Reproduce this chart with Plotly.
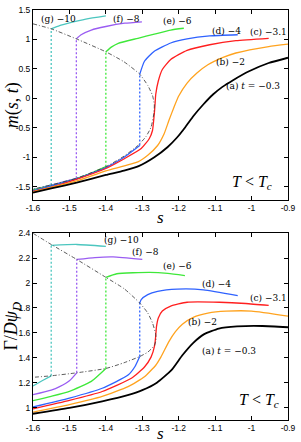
import plotly.graph_objects as go

# ---------------- data: top panel m(s,t) ----------------
s_dd_top = [-1.6, -1.55, -1.481, -1.40, -1.35, -1.307, -1.285, -1.272, -1.267, -1.268, -1.276, -1.29, -1.312, -1.35, -1.40, -1.481, -1.55, -1.6]
m_dd_top = [1.265, 1.18, 1.01, 0.79, 0.62, 0.41, 0.22, 0.05, -0.1, -0.25, -0.49, -0.65, -0.80, -0.98, -1.16, -1.357, -1.47, -1.54]

s_a_top = [-1.6, -1.55, -1.48, -1.40, -1.35, -1.31, -1.267, -1.231, -1.204, -1.182, -1.159, -1.132, -1.106, -1.08, -1.052, -1.007, -0.953, -0.9]
m_a_top = [-1.60, -1.53, -1.43, -1.30, -1.225, -1.15, -1.0, -0.83, -0.66, -0.49, -0.295, -0.10, 0.065, 0.195, 0.305, 0.46, 0.60, 0.69]

s_b_top = [-1.6, -1.55, -1.48, -1.40, -1.312, -1.285, -1.258, -1.24, -1.227, -1.213, -1.2, -1.177, -1.15, -1.12, -1.08, -1.043, -0.953, -0.9]
m_b_top = [-1.59, -1.51, -1.40, -1.23, -1.077, -0.965, -0.80, -0.60, -0.377, -0.15, 0.04, 0.26, 0.43, 0.57, 0.69, 0.77, 0.88, 0.92]

s_c_top = [-1.6, -1.545, -1.481, -1.40, -1.348, -1.303, -1.281, -1.272, -1.267, -1.265, -1.263, -1.256, -1.245, -1.222, -1.177, -1.115, -1.043, -0.953]
m_c_top = [-1.58, -1.497, -1.374, -1.19, -1.02, -0.853, -0.685, -0.545, -0.26, -0.1, 0.07, 0.295, 0.49, 0.66, 0.816, 0.91, 0.98, 1.02]

s_d_top_lo = [-1.6, -1.55, -1.481, -1.40, -1.35, -1.307]
m_d_top_lo = [-1.57, -1.485, -1.368, -1.175, -1.0, -0.80]
s_d_top_hi = [-1.307, -1.294, -1.267, -1.222, -1.177, -1.115, -1.038]
m_d_top_hi = [0.41, 0.63, 0.80, 0.94, 1.01, 1.06, 1.08]

s_e_top_lo = [-1.6, -1.55, -1.481, -1.44, -1.40]
m_e_top_lo = [-1.56, -1.48, -1.362, -1.27, -1.16]
s_e_top_hi = [-1.40, -1.385, -1.366, -1.312, -1.267, -1.222, -1.186]
m_e_top_hi = [0.79, 0.87, 0.935, 1.02, 1.09, 1.16, 1.19]

s_f_top_lo = [-1.6, -1.55, -1.52, -1.481]
m_f_top_lo = [-1.555, -1.475, -1.42, -1.357]
s_f_top_hi = [-1.481, -1.468, -1.44, -1.40, -1.348, -1.301]
m_f_top_hi = [1.01, 1.08, 1.16, 1.22, 1.276, 1.30]

s_g_top_lo = [-1.6, -1.575, -1.55]
m_g_top_lo = [-1.55, -1.51, -1.47]
s_g_top_hi = [-1.55, -1.527, -1.50, -1.455, -1.40]
m_g_top_hi = [1.18, 1.235, 1.28, 1.345, 1.40]

# vertical jumps (s, low m, high m) for g, f, e, d
jump_s_top = [-1.55, -1.481, -1.40, -1.307]
jump_lo_top = [-1.47, -1.357, -1.16, -0.80]
jump_hi_top = [1.18, 1.01, 0.79, 0.41]

# ---------------- data: bottom panel Gamma/(D psi_D) ----------------
s_dd_bot = [-1.6, -1.55, -1.48, -1.40, -1.35, -1.307, -1.285, -1.272, -1.264, -1.262, -1.267, -1.285, -1.307, -1.35, -1.40, -1.48, -1.55, -1.6]
g_dd_bot = [2.40, 2.31, 2.19, 2.046, 1.955, 1.84, 1.76, 1.68, 1.60, 1.55, 1.498, 1.445, 1.41, 1.36, 1.314, 1.279, 1.255, 1.243]

s_a_bot = [-1.6, -1.5, -1.41, -1.34, -1.30, -1.26, -1.22, -1.19, -1.16, -1.13, -1.09, -1.04, -0.97, -0.9]
g_a_bot = [0.95, 0.997, 1.05, 1.10, 1.14, 1.20, 1.30, 1.42, 1.52, 1.59, 1.635, 1.652, 1.655, 1.645]

s_b_bot = [-1.6, -1.5, -1.41, -1.339, -1.294, -1.263, -1.249, -1.227, -1.209, -1.19, -1.16, -1.12, -1.07, -1.0, -0.9]
g_b_bot = [0.963, 1.024, 1.089, 1.168, 1.247, 1.34, 1.405, 1.53, 1.61, 1.67, 1.725, 1.758, 1.774, 1.775, 1.735]

s_c_bot = [-1.6, -1.5, -1.41, -1.33, -1.294, -1.276, -1.266, -1.263, -1.261, -1.256, -1.245, -1.222, -1.177, -1.088, -1.016, -0.953]
g_c_bot = [0.989, 1.057, 1.129, 1.235, 1.326, 1.405, 1.50, 1.58, 1.65, 1.72, 1.775, 1.815, 1.846, 1.846, 1.836, 1.82]

s_d_bot_lo = [-1.6, -1.5, -1.41, -1.339, -1.32, -1.307]
g_d_bot_lo = [1.005, 1.076, 1.155, 1.261, 1.33, 1.41]
s_d_bot_hi = [-1.307, -1.303, -1.285, -1.258, -1.204, -1.132, -1.038]
g_d_bot_hi = [1.84, 1.867, 1.907, 1.933, 1.951, 1.946, 1.90]

s_e_bot_lo = [-1.6, -1.55, -1.5, -1.44, -1.40]
g_e_bot_lo = [1.055, 1.09, 1.13, 1.21, 1.314]
s_e_bot_hi = [-1.40, -1.37, -1.28, -1.23, -1.183]
g_e_bot_hi = [2.046, 2.075, 2.086, 2.078, 2.06]

s_f_bot_lo = [-1.6, -1.55, -1.527, -1.50, -1.48]
g_f_bot_lo = [1.103, 1.14, 1.168, 1.215, 1.279]
s_f_bot_hi = [-1.48, -1.43, -1.38, -1.30]
g_f_bot_hi = [2.19, 2.205, 2.21, 2.19]

s_g_bot_lo = [-1.6, -1.575, -1.55]
g_g_bot_lo = [1.174, 1.215, 1.255]
s_g_bot_hi = [-1.55, -1.48, -1.40]
g_g_bot_hi = [2.303, 2.31, 2.295]

jump_s_bot = [-1.55, -1.48, -1.40, -1.307]
jump_lo_bot = [1.255, 1.279, 1.314, 1.41]
jump_hi_bot = [2.31, 2.19, 2.046, 1.84]

# labels
labels = ["(g) \u221210", "(f) \u22128", "(e) \u22126", "(d) \u22124", "(c) \u22123.1", "(b) \u22122", "(a) <i>t</i> = \u22120.3"]
lab_s_top = [-1.531, -1.343, -1.203, -1.068, -0.953, -1.059, -0.996]
lab_m_top = [1.349, 1.349, 1.315, 1.147, 1.13, 0.609, 0.206]
lab_s_bot = [-1.356, -1.290, -1.204, -1.095, -0.954, -1.134, -1.062]
lab_g_bot = [2.345, 2.25, 2.139, 1.989, 1.878, 1.688, 1.451]

x_ticks = [-1.6, -1.5, -1.4, -1.3, -1.2, -1.1, -1.0, -0.9]
x_ticktext = ["-1.6", "-1.5", "-1.4", "-1.3", "-1.2", "-1.1", "-1", "-0.9"]
y_ticks_top = [-1.5, -1.0, -0.5, 0, 0.5, 1.0, 1.5]
y_ticktext_top = ["-1.5", "-1", "-0.5", "0", "0.5", "1", "1.5"]
y_ticks_bot = [1.0, 1.2, 1.4, 1.6, 1.8, 2.0, 2.2, 2.4]
y_ticktext_bot = ["1", "1.2", "1.4", "1.6", "1.8", "2", "2.2", "2.4"]

# ---------------- styles ----------------
C = {"a": "#000000", "b": "#ffa31f", "c": "#ff1f1f", "d": "#2f62ff",
     "e": "#3fe83a", "f": "#9a5cf2", "g": "#4cc6bf"}

fig = go.Figure()

def line(x, y, color, width=1.3, xa="x", ya="y", dash="solid"):
    fig.add_trace(go.Scatter(x=x, y=y, mode="lines", xaxis=xa, yaxis=ya,
                             line=dict(color=color, width=width, dash=dash, shape="spline", smoothing=0.5),
                             showlegend=False, hoverinfo="skip"))

def vline(s, lo, hi, color, xa, ya):
    fig.add_trace(go.Scatter(x=[s, s], y=[lo, hi], mode="lines", xaxis=xa, yaxis=ya,
                             line=dict(color=color, width=1.3, dash="2px,2px"),
                             showlegend=False, hoverinfo="skip"))

# top panel
jc = ["g", "f", "e", "d"]
for k in range(4):
    vline(jump_s_top[k], jump_lo_top[k], jump_hi_top[k], C[jc[k]], "x", "y")
line(s_g_top_lo, m_g_top_lo, C["g"]); line(s_g_top_hi, m_g_top_hi, C["g"])
line(s_f_top_lo, m_f_top_lo, C["f"]); line(s_f_top_hi, m_f_top_hi, C["f"])
line(s_e_top_lo, m_e_top_lo, C["e"]); line(s_e_top_hi, m_e_top_hi, C["e"])
line(s_d_top_lo, m_d_top_lo, C["d"]); line(s_d_top_hi, m_d_top_hi, C["d"])
line(s_c_top, m_c_top, C["c"])
line(s_b_top, m_b_top, C["b"])
line(s_a_top, m_a_top, C["a"], width=1.8)
line(s_dd_top, m_dd_top, "#333333", width=0.8, dash="4px,2px,1px,2px")

# bottom panel
for k in range(4):
    vline(jump_s_bot[k], jump_lo_bot[k], jump_hi_bot[k], C[jc[k]], "x2", "y2")
line(s_g_bot_lo, g_g_bot_lo, C["g"], xa="x2", ya="y2"); line(s_g_bot_hi, g_g_bot_hi, C["g"], xa="x2", ya="y2")
line(s_f_bot_lo, g_f_bot_lo, C["f"], xa="x2", ya="y2"); line(s_f_bot_hi, g_f_bot_hi, C["f"], xa="x2", ya="y2")
line(s_e_bot_lo, g_e_bot_lo, C["e"], xa="x2", ya="y2"); line(s_e_bot_hi, g_e_bot_hi, C["e"], xa="x2", ya="y2")
line(s_d_bot_lo, g_d_bot_lo, C["d"], xa="x2", ya="y2"); line(s_d_bot_hi, g_d_bot_hi, C["d"], xa="x2", ya="y2")
line(s_c_bot, g_c_bot, C["c"], xa="x2", ya="y2")
line(s_b_bot, g_b_bot, C["b"], xa="x2", ya="y2")
line(s_a_bot, g_a_bot, C["a"], width=1.8, xa="x2", ya="y2")
line(s_dd_bot, g_dd_bot, "#333333", width=0.8, xa="x2", ya="y2", dash="4px,2px,1px,2px")

lab_font = dict(family="DejaVu Serif, serif", size=9, color="black")
ann = []
for i, t in enumerate(labels):
    ann.append(dict(x=lab_s_top[i], y=lab_m_top[i], xref="x", yref="y", text=t, showarrow=False,
                    xanchor="center", yanchor="middle", font=lab_font))
    ann.append(dict(x=lab_s_bot[i], y=lab_g_bot[i], xref="x2", yref="y2", text=t, showarrow=False,
                    xanchor="center", yanchor="middle", font=lab_font))

W, H = 301, 442
ml, mr, mt, mb = 33, 8, 5, 22
ph = H - mt - mb
def fy(py):
    return (H - mb - py) / ph
def fx(px):
    return (px - ml) / (W - ml - mr)

big = dict(family="Liberation Serif, serif", size=16, color="black")
tc = "<i>T</i> &lt; <i>T</i><sub><i>c</i></sub>"
ann.append(dict(x=fx(256), y=fy(180), xref="paper", yref="paper", text=tc, showarrow=False,
                xanchor="center", yanchor="middle", font=big))
ann.append(dict(x=fx(263), y=fy(400), xref="paper", yref="paper", text=tc, showarrow=False,
                xanchor="center", yanchor="middle", font=big))

ttl = dict(family="Liberation Serif, serif", size=18, color="black")
ann.append(dict(x=fx(12), y=fy(101), xref="paper", yref="paper", text="<i>m</i>(<i>s</i>, <i>t</i>)",
                textangle=-90, showarrow=False, xanchor="center", yanchor="middle", font=ttl))
ann.append(dict(x=fx(12), y=fy(325), xref="paper", yref="paper", text="\u0393/<i>D\u03c8</i><sub><i>D</i></sub>",
                textangle=-90, showarrow=False, xanchor="center", yanchor="middle", font=ttl))
ann.append(dict(x=fx(163), y=fy(215), xref="paper", yref="paper", text="<i>s</i>",
                showarrow=False, xanchor="center", yanchor="middle", font=dict(family="Liberation Serif, serif", size=17, color="black")))
ann.append(dict(x=fx(163), y=fy(434), xref="paper", yref="paper", text="<i>s</i>",
                showarrow=False, xanchor="center", yanchor="middle", font=dict(family="Liberation Serif, serif", size=17, color="black")))

tick_font = dict(family="Liberation Sans, Arial, sans-serif", size=8.5, color="black")
axis_common = dict(showline=True, linecolor="black", linewidth=1, mirror="ticks", ticks="inside",
                   ticklen=4, tickcolor="black", tickwidth=1, showgrid=False, zeroline=False,
                   tickfont=tick_font)

fig.update_layout(
    width=W, height=H, margin=dict(l=ml, r=mr, t=mt, b=mb),
    paper_bgcolor="white", plot_bgcolor="white",
    xaxis=dict(domain=[0, 1], anchor="y", range=[-1.6, -0.9], tickvals=x_ticks, ticktext=x_ticktext, **axis_common),
    yaxis=dict(domain=[fy(197), 1], anchor="x", range=[-1.72, 1.5], tickvals=y_ticks_top, ticktext=y_ticktext_top, **axis_common),
    xaxis2=dict(domain=[0, 1], anchor="y2", range=[-1.6, -0.9], tickvals=x_ticks, ticktext=x_ticktext, **axis_common),
    yaxis2=dict(domain=[0, fy(231)], anchor="x2", range=[0.9, 2.4], tickvals=y_ticks_bot, ticktext=y_ticktext_bot, **axis_common),
    annotations=ann,
    showlegend=False,
)

fig.write_html("out.html", config={"displayModeBar": False},
               post_script="document.body.style.margin='0';document.body.style.padding='0';document.body.style.overflow='hidden';")
